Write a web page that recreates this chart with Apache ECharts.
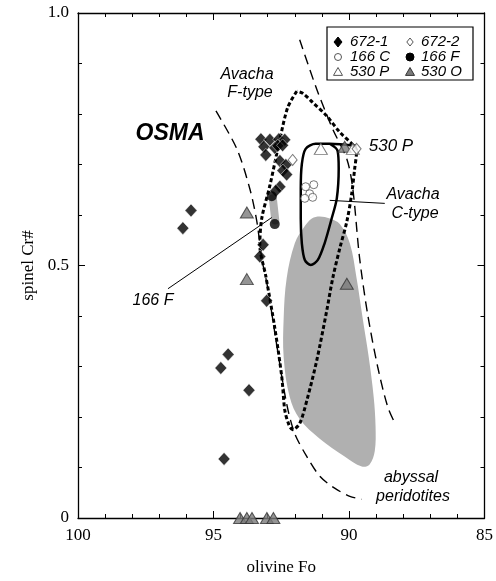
<!DOCTYPE html>
<html>
<head>
<meta charset="utf-8">
<script src="https://cdn.jsdelivr.net/npm/echarts@6/dist/echarts.min.js"></script>
<style>
  html, body { margin: 0; padding: 0; background: #fff; }
  #chart { width: 496px; height: 581px; }
</style>
</head>
<body>
<div id="chart"></div>
<script>
// Olivine Fo vs spinel Cr# — sample groups, fields and reference envelopes.
const xTicks = [100, 95, 90, 85];
const yTicks = [0, 0.5, 1.0];

// Sample 672-1 (black diamonds)
const s672_1 = [
  [95.83, 0.609], [96.13, 0.574], [93.04, 0.430], [93.17, 0.541], [93.29, 0.518],
  [94.46, 0.324], [94.73, 0.297], [93.69, 0.253], [94.61, 0.117],
  [93.25, 0.750], [92.92, 0.749], [92.59, 0.750], [92.37, 0.749],
  [93.14, 0.735], [92.74, 0.733], [93.07, 0.719], [92.63, 0.737], [92.45, 0.738],
  [92.55, 0.707], [92.33, 0.699], [92.44, 0.688], [92.30, 0.680],
  [92.55, 0.656], [92.70, 0.648]
];
// Sample 672-2 (open diamonds)
const s672_2 = [[92.08, 0.709], [89.72, 0.731]];
// Sample 166 C (open circles)
const s166C = [[91.60, 0.656], [91.30, 0.660], [91.45, 0.642], [91.63, 0.633], [91.34, 0.635]];
// Sample 166 F (black circles)
const s166F = [[92.85, 0.637], [92.74, 0.582]];
// Sample 530 P (open triangles)
const s530P = [[91.04, 0.731], [89.86, 0.731]];
// Sample 530 O (grey triangles)
const s530O = [
  [90.16, 0.735], [90.08, 0.464], [93.77, 0.605], [93.77, 0.473],
  [94.02, 0.0], [93.77, 0.0], [93.58, 0.0], [93.03, 0.0], [92.79, 0.0]
];

// 166 F compositional range (grey bar)
const band166F = [[92.81, 0.633], [92.72, 0.589]];

// Abyssal peridotite field outline
const abyssalField = [
  [91.08, 0.597], [90.71, 0.593], [90.34, 0.582], [89.97, 0.544], [89.72, 0.475],
  [89.50, 0.397], [89.27, 0.318], [89.09, 0.240], [89.02, 0.181], [89.05, 0.132],
  [89.24, 0.106], [89.53, 0.102], [90.16, 0.122], [91.08, 0.157], [91.82, 0.196],
  [92.19, 0.240], [92.41, 0.318], [92.41, 0.397], [92.30, 0.475], [92.00, 0.544],
  [91.63, 0.578], [91.37, 0.593]
];

// Avacha C-type outline
const avachaC = [
  [89.72, 0.737], [90.71, 0.741], [91.23, 0.741], [91.60, 0.731], [91.74, 0.701],
  [91.78, 0.652], [91.78, 0.593], [91.74, 0.544], [91.63, 0.511], [91.41, 0.501],
  [91.15, 0.511], [90.90, 0.544], [90.64, 0.593], [90.45, 0.633], [90.38, 0.692],
  [90.42, 0.727], [90.71, 0.741]
];

// Avacha F-type outline
const avachaF = [
  [91.93, 0.845], [92.26, 0.813], [92.55, 0.750], [92.92, 0.658], [93.22, 0.593],
  [93.29, 0.540], [93.07, 0.479], [92.74, 0.377], [92.48, 0.279], [92.37, 0.214],
  [92.22, 0.185], [92.08, 0.175], [91.82, 0.187], [91.52, 0.240], [91.19, 0.312],
  [90.82, 0.411], [90.60, 0.475], [90.34, 0.534], [90.08, 0.587], [89.90, 0.642],
  [89.79, 0.692], [89.72, 0.727], [89.86, 0.739], [90.34, 0.764], [90.82, 0.796],
  [91.34, 0.823], [91.71, 0.841], [91.93, 0.845]
];

// Envelope boundaries (long dashes)
const envelopeLeft = [
  [94.91, 0.806], [94.14, 0.731], [93.66, 0.652], [93.40, 0.587], [93.22, 0.515],
  [93.00, 0.456], [92.67, 0.344], [92.30, 0.226], [92.00, 0.167], [91.56, 0.122],
  [91.08, 0.083], [90.53, 0.059], [89.97, 0.043], [89.53, 0.037]
];
const envelopeRight = [
  [91.82, 0.947], [91.19, 0.849], [90.60, 0.770], [90.08, 0.711], [89.86, 0.652],
  [89.61, 0.515], [89.31, 0.403], [88.94, 0.299], [88.57, 0.220], [88.28, 0.185]
];

// Leader lines for annotations
const leader166F = [[96.68, 0.454], [92.85, 0.595]];
const leaderC = [[90.71, 0.629], [88.68, 0.623]];

const serif = '"Liberation Serif", "DejaVu Serif", serif';
const sans = '"Liberation Sans", Arial, sans-serif';
const grey = '#b0b0b0';
const triGrey = '#7a7a7a';

const chart = echarts.init(document.getElementById('chart'), null, { renderer: 'canvas' });

function axisLabelFmt(v) {
  if (Math.abs(v - 1) < 1e-9) return '1.0';
  if (Math.abs(v - 0.5) < 1e-9) return '0.5';
  if (Math.abs(v) < 1e-9) return '0';
  return '';
}

const lineBase = { type: 'line', showSymbol: false, symbol: 'none', silent: true, animation: false };

const italic = (text, x, y, size, weight) => ({
  type: 'text', x: x, y: y, z: 100,
  style: {
    text: text, font: `italic ${weight || 'normal'} ${size}px ${sans}`,
    fill: '#000', align: 'center', verticalAlign: 'middle'
  }
});

// Legend drawn as a framed two-column key
const lgX1 = 338, lgX2 = 410, lgRows = [42, 57, 72];
function diamond(cx, cy, r, fill, stroke) {
  return { type: 'polygon', z: 101, shape: { points: [[cx, cy - r], [cx + r * 0.8, cy], [cx, cy + r], [cx - r * 0.8, cy]] },
    style: { fill: fill, stroke: stroke, lineWidth: 1 } };
}
function tri(cx, cy, r, fill, stroke) {
  return { type: 'polygon', z: 101, shape: { points: [[cx, cy - r], [cx + r, cy + r * 0.75], [cx - r, cy + r * 0.75]] },
    style: { fill: fill, stroke: stroke, lineWidth: 1 } };
}
function circ(cx, cy, r, fill, stroke) {
  return { type: 'circle', z: 101, shape: { cx: cx, cy: cy, r: r }, style: { fill: fill, stroke: stroke, lineWidth: 1 } };
}
function legText(t, x, y) {
  return { type: 'text', x: x, y: y, z: 101,
    style: { text: t, font: `italic 15px ${sans}`, fill: '#000', align: 'left', verticalAlign: 'middle' } };
}

const option = {
  backgroundColor: '#fff',
  animation: false,
  grid: { left: 78, right: 11, top: 13, bottom: 59, containLabel: false },
  xAxis: [
    {
      type: 'value', min: 85, max: 100, interval: 5, inverse: true,
      name: 'olivine Fo', nameLocation: 'middle', nameGap: 41,
      nameTextStyle: { fontFamily: serif, fontSize: 17, color: '#000' },
      axisLine: { show: true, onZero: false, lineStyle: { color: '#000', width: 1.3 } },
      axisTick: { show: true, inside: true, length: 7, lineStyle: { color: '#000', width: 1 } },
      minorTick: { show: true, splitNumber: 5, length: 4, lineStyle: { color: '#000', width: 1 } },
      axisLabel: { fontFamily: serif, fontSize: 17, color: '#000', margin: 9,
        formatter: v => (xTicks.indexOf(v) >= 0 ? String(v) : '') },
      splitLine: { show: false }
    },
    {
      type: 'value', min: 85, max: 100, interval: 5, inverse: true, position: 'top',
      axisLine: { show: true, onZero: false, lineStyle: { color: '#000', width: 1.3 } },
      axisTick: { show: true, inside: true, length: 7, lineStyle: { color: '#000' } },
      minorTick: { show: true, splitNumber: 5, length: 4, lineStyle: { color: '#000' } },
      axisLabel: { show: false }, splitLine: { show: false }
    }
  ],
  yAxis: [
    {
      type: 'value', min: 0, max: 1, interval: 0.5,
      name: 'spinel Cr#', nameLocation: 'middle', nameGap: 37, nameRotate: 90,
      nameTextStyle: { fontFamily: serif, fontSize: 17, color: '#000' },
      axisLine: { show: true, onZero: false, lineStyle: { color: '#000', width: 1.3 } },
      axisTick: { show: true, inside: true, length: 7, lineStyle: { color: '#000' } },
      minorTick: { show: true, splitNumber: 5, length: 4, lineStyle: { color: '#000' } },
      axisLabel: { fontFamily: serif, fontSize: 17, color: '#000', margin: 9, formatter: axisLabelFmt },
      splitLine: { show: false }
    },
    {
      type: 'value', min: 0, max: 1, interval: 0.5, position: 'right',
      axisLine: { show: true, onZero: false, lineStyle: { color: '#000', width: 1.3 } },
      axisTick: { show: true, inside: true, length: 7, lineStyle: { color: '#000' } },
      minorTick: { show: true, splitNumber: 5, length: 4, lineStyle: { color: '#000' } },
      axisLabel: { show: false }, splitLine: { show: false }
    }
  ],
  series: [
    {
      type: 'custom', name: 'abyssal peridotites', silent: true, z: 1,
      data: abyssalField,
      renderItem: function (params, api) {
        if (params.dataIndex !== 0) return null;
        const pts = abyssalField.map(p => api.coord(p));
        return { type: 'polygon', shape: { points: pts, smooth: 0.35 }, style: { fill: grey } };
      }
    },
    Object.assign({}, lineBase, { name: '166 F range', z: 2, data: band166F,
      lineStyle: { color: grey, width: 8, cap: 'round' } }),
    Object.assign({}, lineBase, { name: 'Avacha C-type', z: 3, data: avachaC, smooth: 0.3,
      lineStyle: { color: '#000', width: 2.5 } }),
    Object.assign({}, lineBase, { name: 'Avacha F-type', z: 3, data: avachaF, smooth: 0.3,
      lineStyle: { color: '#000', width: 3, type: [4, 2.5] } }),
    Object.assign({}, lineBase, { name: 'envelope left', z: 3, data: envelopeLeft, smooth: 0.3,
      lineStyle: { color: '#000', width: 1.4, type: [10, 6] } }),
    Object.assign({}, lineBase, { name: 'envelope right', z: 3, data: envelopeRight, smooth: 0.3,
      lineStyle: { color: '#000', width: 1.4, type: [10, 6] } }),
    Object.assign({}, lineBase, { name: 'leader 166F', z: 3, data: leader166F,
      lineStyle: { color: '#000', width: 1 } }),
    Object.assign({}, lineBase, { name: 'leader C', z: 3, data: leaderC,
      lineStyle: { color: '#000', width: 1 } }),
    { type: 'scatter', name: '530 O', z: 5, data: s530O, symbol: 'triangle', symbolSize: [13, 11],
      itemStyle: { color: triGrey, borderColor: '#333', borderWidth: 1 } },
    { type: 'scatter', name: '530 P', z: 5, data: s530P, symbol: 'triangle', symbolSize: [13, 11],
      itemStyle: { color: '#fff', borderColor: '#555', borderWidth: 1 } },
    { type: 'scatter', name: '672-1', z: 6, data: s672_1, symbol: 'diamond', symbolSize: [12, 13],
      itemStyle: { color: '#000', borderColor: '#fff', borderWidth: 0.6 } },
    { type: 'scatter', name: '672-2', z: 6, data: s672_2, symbol: 'diamond', symbolSize: [9, 11],
      itemStyle: { color: '#fff', borderColor: '#555', borderWidth: 1 } },
    { type: 'scatter', name: '166 C', z: 6, data: s166C, symbol: 'circle', symbolSize: 8,
      itemStyle: { color: '#fff', borderColor: '#555', borderWidth: 1 } },
    { type: 'scatter', name: '166 F', z: 6, data: s166F, symbol: 'circle', symbolSize: 10,
      itemStyle: { color: '#000', borderColor: '#000', borderWidth: 0 } }
  ],
  graphic: [
    italic('OSMA', 170, 134, 23, 'bold'),
    italic('Avacha', 247, 75, 16),
    italic('F-type', 250, 93, 16),
    italic('530 P', 391, 146, 17),
    italic('Avacha', 413, 195, 16),
    italic('C-type', 415, 214, 16),
    italic('166 F', 153, 301, 16),
    italic('abyssal', 411, 478, 16),
    italic('peridotites', 413, 497, 16),
    { type: 'rect', z: 100, shape: { x: 327, y: 27, width: 146, height: 53 },
      style: { fill: '#fff', stroke: '#000', lineWidth: 1.2 } },
    diamond(lgX1, lgRows[0], 5, '#000', '#000'), legText('672-1', lgX1 + 12, lgRows[0]),
    diamond(lgX2, lgRows[0], 4, '#fff', '#555'), legText('672-2', lgX2 + 11, lgRows[0]),
    circ(lgX1, lgRows[1], 3.5, '#fff', '#555'), legText('166 C', lgX1 + 12, lgRows[1]),
    circ(lgX2, lgRows[1], 4, '#000', '#000'), legText('166 F', lgX2 + 11, lgRows[1]),
    tri(lgX1, lgRows[2], 4.5, '#fff', '#555'), legText('530 P', lgX1 + 12, lgRows[2]),
    tri(lgX2, lgRows[2], 4.5, triGrey, '#333'), legText('530 O', lgX2 + 11, lgRows[2])
  ]
};

chart.setOption(option);
</script>
</body>
</html>
